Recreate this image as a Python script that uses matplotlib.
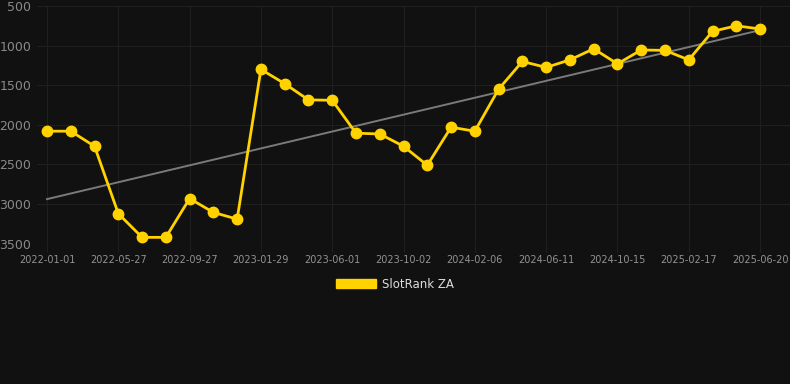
import numpy as np
import matplotlib
matplotlib.use("Agg")
import matplotlib.pyplot as plt
from matplotlib.patches import Patch

# rank per sample (lower = better), one point per ~48 days
ranks = [2080, 2080, 2270, 3120, 3420, 3420, 2930, 3105, 3190, 1300,
         1480, 1685, 1690, 2105, 2115, 2270, 2510, 2030, 2080, 1550,
         1200, 1275, 1180, 1040, 1230, 1055, 1060, 1180, 820, 750, 790]
tick_labels = ["2022-01-01", "2022-05-27", "2022-09-27", "2023-01-29",
               "2023-06-01", "2023-10-02", "2024-02-06", "2024-06-11",
               "2024-10-15", "2025-02-17", "2025-06-20"]
yticks = [500, 1000, 1500, 2000, 2500, 3000, 3500]

BG = "#111111"
YELLOW = "#FFD200"

x = np.arange(len(ranks))
slope, icept = np.polyfit(x, ranks, 1)

fig = plt.figure(figsize=(7.9, 3.84), dpi=100, facecolor=BG)
ax = fig.add_axes([37 / 790, 1 - 243.7 / 384, 753 / 790, 237.7 / 384])
ax.set_facecolor(BG)

ax.plot(x, slope * x + icept, color="#7a7a7a", linewidth=1.4, zorder=2)
ax.plot(x, ranks, color=YELLOW, linewidth=2.0, marker="o", markersize=7.5,
        zorder=3, clip_on=False)

ax.set_ylim(3500, 500)
ax.set_xlim(-0.42, 31.26)
ax.set_yticks(yticks)
ax.set_yticklabels([str(v) for v in yticks])
ax.set_xticks(x[::3])
ax.set_xticklabels(tick_labels)

ax.grid(True, color="#1f1f1f", linewidth=0.8)
for s in ax.spines.values():
    s.set_visible(False)
ax.tick_params(axis="y", length=0, pad=4, labelsize=9, labelcolor="#8a8a8a")
ax.tick_params(axis="x", length=6, color="#1f1f1f", pad=2, labelsize=7,
               labelcolor="#929292")

fig.legend(handles=[Patch(facecolor=YELLOW, edgecolor=YELLOW, label="SlotRank ZA")],
           loc="center", bbox_to_anchor=(0.5, 1 - 284 / 384), frameon=False,
           fontsize=8.5, labelcolor="#dddddd", handlelength=3.4, handleheight=0.9,
           handletextpad=0.5)

fig.savefig("out.png", dpi=100, facecolor=BG)
